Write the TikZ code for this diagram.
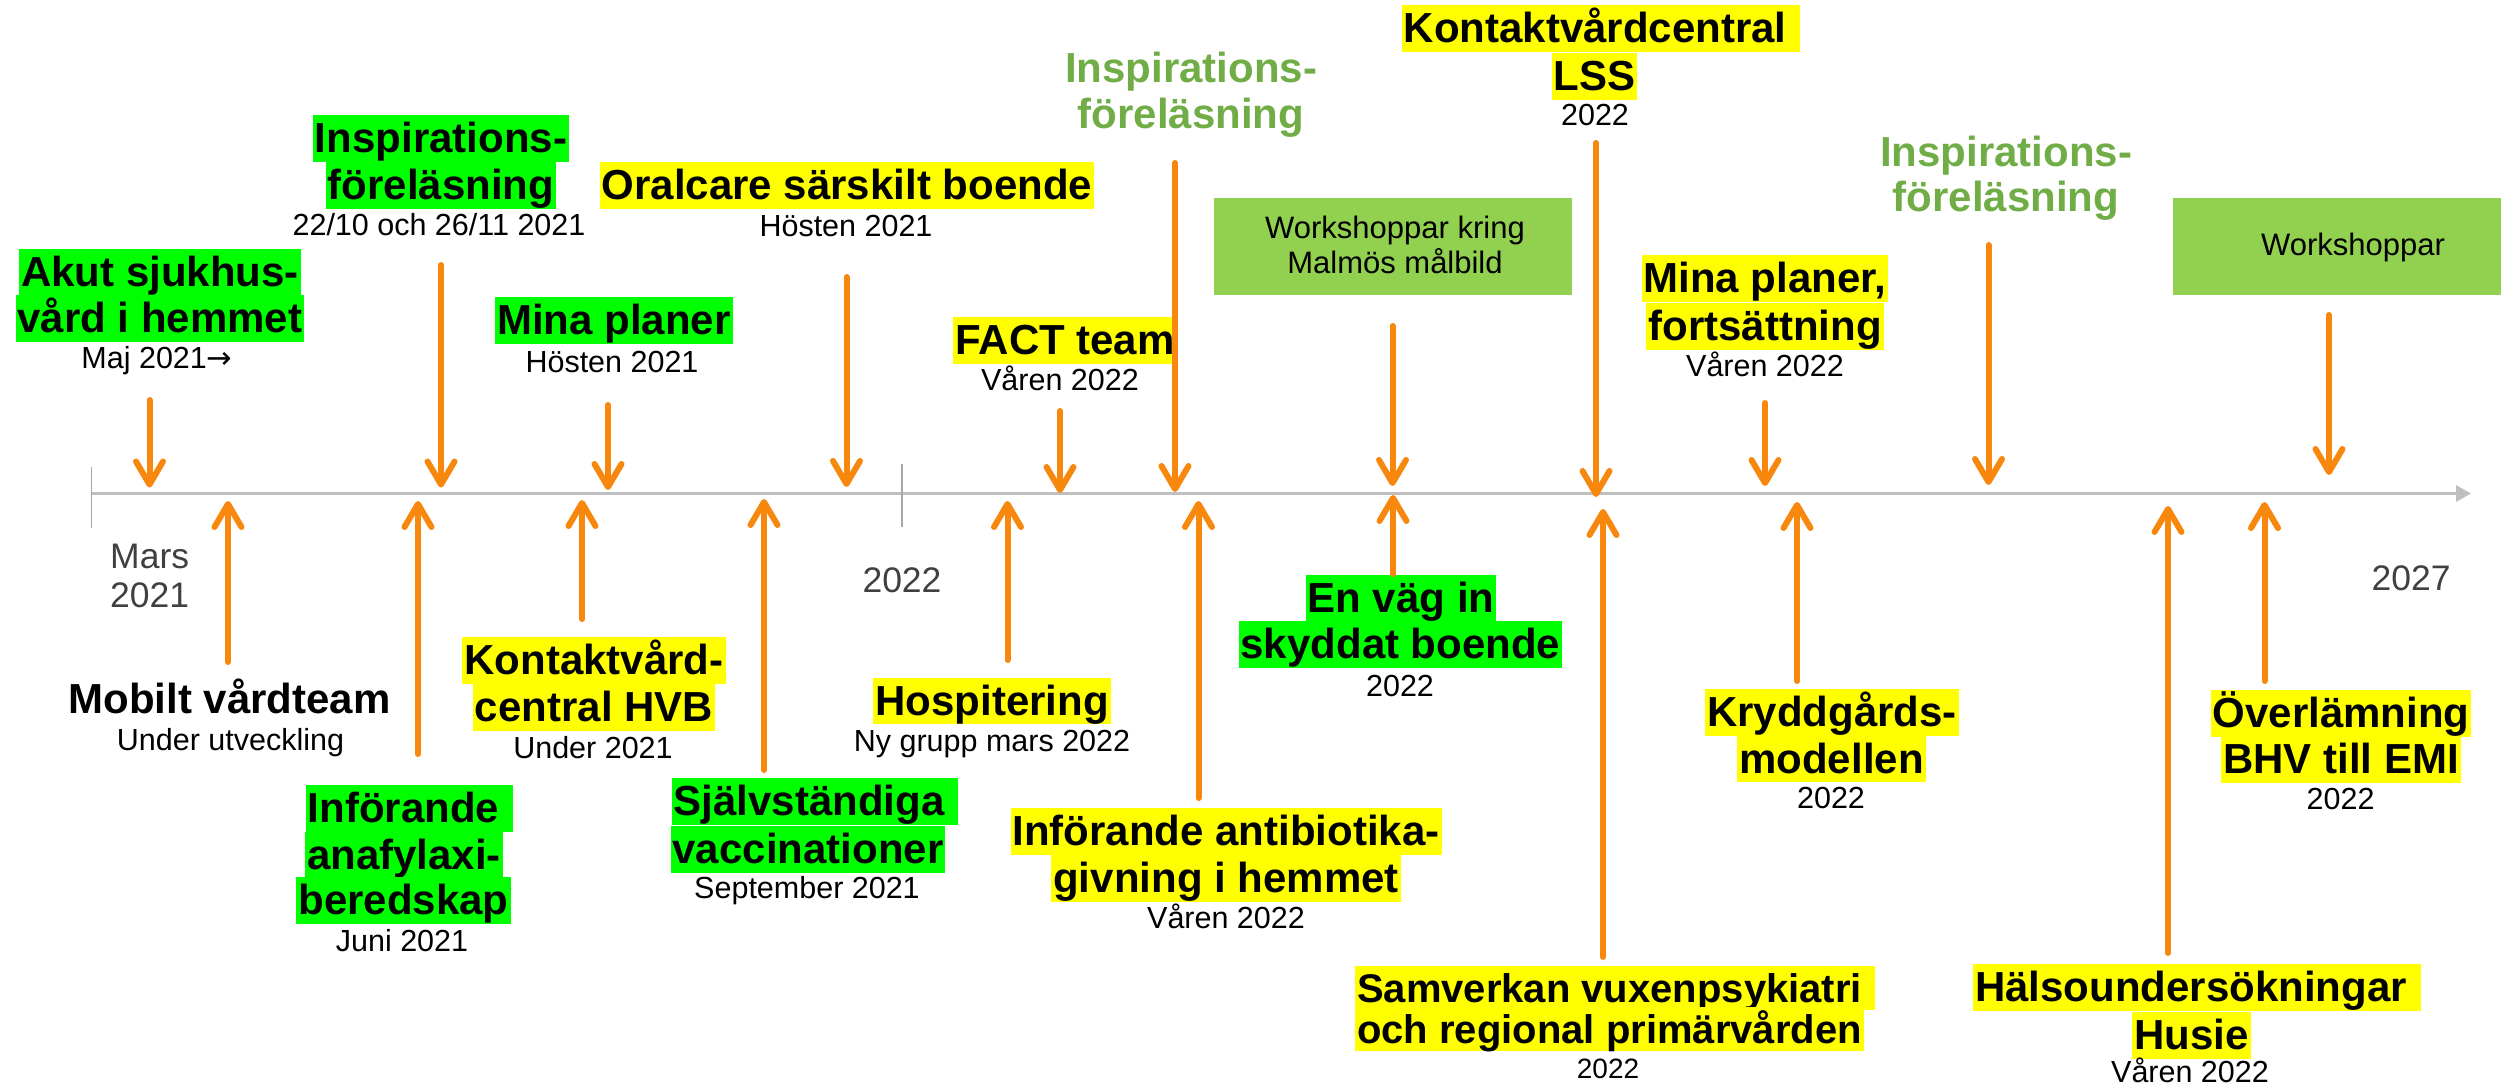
\documentclass[tikz,border=0pt]{standalone}
\usepackage{fontspec}
\setmainfont{Liberation Sans}
\newfontfamily\arrfont{DejaVu Sans}
\usetikzlibrary{arrows.meta}
\definecolor{orng}{HTML}{F7880D}
\definecolor{hlg}{HTML}{00FF00}
\definecolor{hly}{HTML}{FFFF00}
\definecolor{wsg}{HTML}{92D050}
\definecolor{insg}{HTML}{70AD47}
\definecolor{axg}{HTML}{BFBFBF}
\definecolor{tickg}{HTML}{A6A6A6}
\definecolor{yrg}{HTML}{404040}
\newcommand\TTfont{\fontsize{42}{46.5}\selectfont\bfseries}
\newcommand\TSfont{\fontsize{40}{43}\selectfont\bfseries}
\newcommand\SBfont{\fontsize{30.5}{36}\selectfont}
\newcommand\SSfont{\fontsize{28}{33}\selectfont}
\newcommand\YRfont{\fontsize{35.5}{39}\selectfont}
\newcommand\WSfont{\fontsize{31}{34.5}\selectfont}
\tikzset{
  hl/.style={font=\TTfont, text height=37.5pt, text depth=9pt, inner xsep=2pt, inner ysep=0pt, anchor=base},
  hlG/.style={hl, fill=hlg},
  hlY/.style={hl, fill=hly},
  hlS/.style={font=\TSfont, text height=36pt, text depth=8pt, inner xsep=2pt, inner ysep=0pt, fill=hly},
  tt/.style={font=\TTfont, inner sep=0pt, anchor=base},
  ins/.style={font=\TTfont, text=insg, inner sep=0pt, anchor=base},
  sb/.style={font=\SBfont, inner sep=0pt, anchor=base},
  ss/.style={font=\SSfont, inner sep=0pt, anchor=base},
  yr/.style={font=\YRfont, text=yrg, inner sep=0pt, anchor=base},
  wst/.style={font=\WSfont, inner sep=0pt, anchor=base},
  wsbox/.style={fill=wsg, draw=none, inner sep=0pt},
  axisline/.style={draw=axg, line width=3pt, -{Triangle[length=15pt,width=16pt]}},
  tickline/.style={draw=tickg, line width=1.5pt},
  arr/.style={draw=orng, line width=6pt, line cap=round, -{Straight Barb[length=23pt,width=27pt,round]}}
}
\begin{document}
\begin{tikzpicture}[x=1pt,y=-1pt]
\useasboundingbox (0,0) rectangle (2501,1087);
\fill[white] (0,0) rectangle (2501,1087);
\clip (0,0) rectangle (2501,1087);

% workshop boxes
\node[wsbox, minimum width=358pt, minimum height=97pt] (ws1) at (1393,246.5) {};
\node[wst] (ws1a) at (1395,238.5) {Workshoppar kring};
\node[wst] (ws1b) at (1395,273) {Malmös målbild};
\node[wsbox, minimum width=362pt, minimum height=97pt] (ws2) at (2354,246.5) {};
\node[wst] (ws2a) at (2353,255) {Workshoppar};

% axis and ticks
\coordinate (ax0) at (91.5,493.5);
\coordinate (ax1) at (2471,493.5);
\draw[axisline] (ax0) -- (ax1);
\coordinate (t1a) at (91.5,467); \coordinate (t1b) at (91.5,528);
\coordinate (t2a) at (902,464); \coordinate (t2b) at (902,527);
\draw[tickline] (t1a) -- (t1b);
\draw[tickline] (t2a) -- (t2b);

% years
\node[yr, anchor=base west] (y1a) at (110,568) {Mars};
\node[yr, anchor=base west] (y1b) at (110,607) {2021};
\node[yr] (y2) at (902,592) {2022};
\node[yr] (y3) at (2411,590) {2027};

% top labels
\node[hlG] (akut1) at (160,286.5) {Akut sjukhus-};
\node[hlG] (akut2) at (160,332.5) {vård i hemmet};
\node[sb] (akut3) at (157,368) {Maj 2021{\arrfont →}};

\node[hlG] (insa1) at (441,152.5) {Inspirations-};
\node[hlG] (insa2) at (441,199.5) {föreläsning};
\node[sb] (insa3) at (439,235) {22/10 och 26/11 2021};

\node[hlG] (mina1) at (614,334.5) {Mina planer};
\node[sb] (mina2) at (612,372) {Hösten 2021};

\node[hlY] (oral1) at (847,199.5) {Oralcare särskilt boende};
\node[sb] (oral2) at (846,236) {Hösten 2021};

\node[hlY] (fact1) at (1065,354.5) {FACT team};
\node[sb] (fact2) at (1060,390) {Våren 2022};

\node[ins] (insb1) at (1191,82.7) {Inspirations-};
\node[ins] (insb2) at (1191,128.3) {föreläsning};

\node[hlY] (lss1) at (1601,42.5) {Kontaktvårdcentral\kern11.7pt};
\node[hlY] (lss2) at (1594.5,90.5) {LSS};
\node[sb] (lss3) at (1595,125.6) {2022};

\node[hlY] (minb1) at (1765,292.5) {Mina planer,};
\node[hlY] (minb2) at (1765,340.5) {fortsättning};
\node[sb] (minb3) at (1765,376) {Våren 2022};

\node[ins] (insc1) at (2006,166.7) {Inspirations-};
\node[ins] (insc2) at (2006,211.7) {föreläsning};

% bottom labels
\node[tt] (mob1) at (229.5,713.8) {Mobilt vårdteam};
\node[sb] (mob2) at (230.5,750.6) {Under utveckling};

\node[hlG] (ana1) at (409.5,822.5) {Införande\kern11.7pt};
\node[hlG] (ana2) at (404,869.5) {anafylaxi-};
\node[hlG] (ana3) at (403.5,914.5) {beredskap};
\node[sb] (ana4) at (402,951) {Juni 2021};

\node[hlY] (hvb1) at (594,674.5) {Kontaktvård-};
\node[hlY] (hvb2) at (594,721.5) {central HVB};
\node[sb] (hvb3) at (593,758) {Under 2021};

\node[hlG] (sjv1) at (815,815.5) {Självständiga\kern11.7pt};
\node[hlG] (sjv2) at (808,863.5) {vaccinationer};
\node[sb] (sjv3) at (807,898.3) {September 2021};

\node[hlY] (hos1) at (992,715) {Hospitering};
\node[sb] (hos2) at (992,751) {Ny grupp mars 2022};

\node[hlY] (ant1) at (1226,845.5) {Införande antibiotika-};
\node[hlY] (ant2) at (1226,892.5) {givning i hemmet};
\node[sb] (ant3) at (1226,928.6) {Våren 2022};

\node[hlG] (env1) at (1401,612.5) {En väg in};
\node[hlG] (env2) at (1400.5,658.5) {skyddat boende};
\node[sb] (env3) at (1400,696) {2022};

\node[hlS, anchor=base west] (sam1) at (1355,1002) {Samverkan vuxenpsykiatri\kern11pt};
\node[hlS, anchor=base west] (sam2) at (1355,1043) {och regional primärvården};
\node[ss] (sam3) at (1608,1078) {2022};

\node[hlY] (kry1) at (1832,726.5) {Kryddgårds-};
\node[hlY] (kry2) at (1831.5,773) {modellen};
\node[sb] (kry3) at (1831,808) {2022};

\node[hlY] (hal1) at (2196.8,1001.5) {Hälsoundersökningar\kern11.7pt};
\node[hlY] (hal2) at (2191.5,1049.5) {Husie};
\node[sb] (hal3) at (2190,1082) {Våren 2022};

\node[hlY] (ovl1) at (2341,727.5) {Överlämning};
\node[hlY] (ovl2) at (2341,773.5) {BHV till EMI};
\node[sb] (ovl3) at (2340.6,809.5) {2022};

% arrows
\foreach \n/\x/\a/\b in {
  d1/149.5/400/487.5, d2/441/265/487.5, d3/608/405/490, d4/846.5/277/487,
  d5/1060/411/493, d6/1175/163/492, d7/1392.5/326/486, d8/1596/143/497,
  d9/1765/403/486, d10/1988.5/245/485, d11/2329/315/475,
  u1/228/662/501, u2/418/754/501, u3/582/619/500, u4/764/770/499,
  u5/1007.5/660/501, u6/1198.5/798/501, u7/1393/574/495, u8/1603/957/509,
  u9/1797/681/502, u10/2168/953/506, u11/2264.5/681/502}{
  \coordinate (s\n) at (\x,\a);
  \coordinate (e\n) at (\x,\b);
  \draw[arr] (s\n) -- (e\n);
}
\end{tikzpicture}
\end{document}
